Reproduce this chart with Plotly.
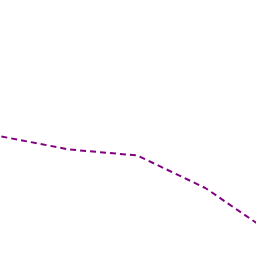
import plotly.graph_objects as go

x_vals = [0, 1, 2, 3, 4]
y_vals = [119.5, 106.5, 100.5, 68, 21.5]

fig = go.Figure(go.Scatter(x=x_vals, y=y_vals, mode="lines",
                           line=dict(color="#800080", width=2, dash="6px,4px")))
fig.update_layout(width=256, height=256, margin=dict(l=0, r=0, t=0, b=0),
                  paper_bgcolor="white", plot_bgcolor="white", showlegend=False)
fig.update_xaxes(visible=False, range=[-0.02, 256/68 - 0.02])
fig.update_yaxes(visible=False, range=[0, 256])
fig.write_html("out.html")
